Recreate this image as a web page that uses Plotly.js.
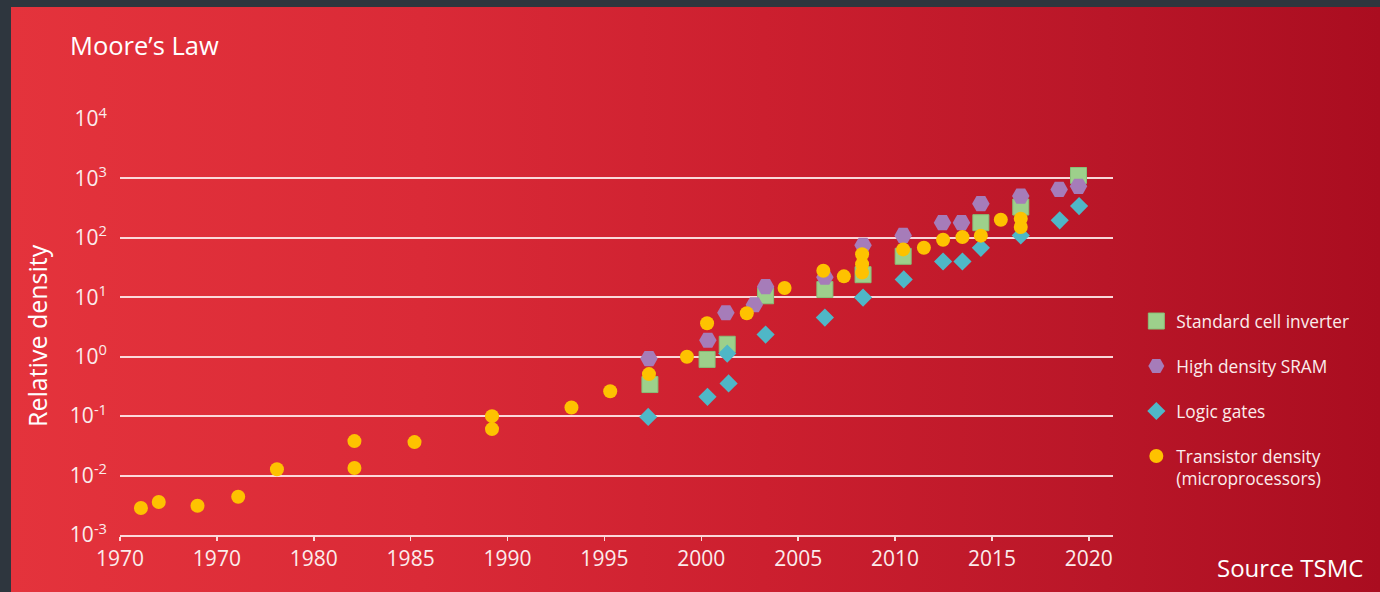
<!DOCTYPE html>
<html>
<head>
<meta charset="utf-8">
<script src="https://cdn.plot.ly/plotly-3.0.1.min.js"></script>
<style>
html,body{margin:0;padding:0;width:1380px;height:592px;overflow:hidden;background:#2e363e;}
#bg{position:absolute;left:11px;top:7px;width:1369px;height:585px;
  background:linear-gradient(to right,#e4333c 0%,#da2a37 30%,#cc1f2f 55%,#b91628 80%,#aa0d20 100%);}
#chart{position:absolute;left:0;top:0;width:1380px;height:592px;}
</style>
</head>
<body>
<div id="bg"></div>
<div id="chart"></div>
<script>
// ---- tick labels ----
const xTickVals = [1970, 1975, 1980, 1985, 1990, 1995, 2000, 2005, 2010, 2015, 2020];
const xTickText = ['1970', '1970', '1980', '1985', '1990', '1995', '2000', '2005', '2010', '2015', '2020'];
const yTickVals = [1e-3, 1e-2, 1e-1, 1e0, 1e1, 1e2, 1e3, 1e4];
const yTickText = ['10<sup>-3</sup>', '10<sup>-2</sup>', '10<sup>-1</sup>', '10<sup>0</sup>',
                   '10<sup>1</sup>', '10<sup>2</sup>', '10<sup>3</sup>', '10<sup>4</sup>'];

// ---- series ----
const seriesNames = ['Standard cell inverter', 'High density SRAM', 'Logic gates',
                     'Transistor density<br>(microprocessors)'];

const inverterYears = [1997.35, 2000.3, 2001.34, 2003.32, 2006.38, 2008.35, 2010.42, 2014.43, 2016.49, 2019.47];
const inverterDensity = [0.34, 0.90, 1.62, 10.6, 13.5, 24, 49, 180, 330, 1120];

const sramYears = [1997.3, 2000.34, 2001.27, 2002.74, 2003.32, 2006.38, 2008.35, 2010.42, 2012.45, 2013.43, 2014.43, 2016.49, 2018.47, 2019.47];
const sramDensity = [0.93, 1.89, 5.5, 7.5, 15.1, 21.7, 75, 110, 180, 180, 376, 505, 653, 735];

const logicYears = [1997.26, 2000.32, 2001.41, 2001.34, 2003.32, 2006.38, 2008.35, 2010.45, 2012.48, 2013.48, 2014.43, 2016.49, 2018.5, 2019.5];
const logicDensity = [0.097, 0.211, 0.355, 1.13, 2.36, 4.56, 9.9, 20, 40, 40, 68, 110, 197, 342];

const transistorYears = [1971.08, 1972.0, 1974.0, 1976.1, 1978.1, 1982.1, 1982.1, 1985.2, 1989.2, 1989.2,
  1993.3, 1995.3, 1997.3, 1999.26, 2000.3, 2002.35, 2004.3, 2006.3, 2007.36, 2008.3, 2008.3, 2008.3,
  2010.42, 2011.49, 2012.48, 2013.48, 2014.43, 2015.46, 2016.49, 2016.49];
const transistorDensity = [0.00284, 0.0036, 0.0031, 0.0044, 0.0128, 0.038, 0.0134, 0.0366, 0.1, 0.0605,
  0.14, 0.263, 0.51, 1.0, 3.65, 5.4, 14.3, 28, 22.5, 53, 36, 26,
  64, 68, 93, 103, 109, 202, 210, 152];

const FONT = '"Open Sans", "Noto Sans", sans-serif';
const LINE = 'rgba(255,236,236,0.9)';
const xRange = [1970, 2021.25];
const yRange = [-3, 4];

const traces = [
  {x: inverterYears, y: inverterDensity, name: seriesNames[0], legendgroup: 'a',
   type: 'scatter', mode: 'markers', cliponaxis: false,
   marker: {symbol: 'square', size: 16, color: '#9dd08b', line: {color: '#88bf77', width: 1}}},
  {x: sramYears, y: sramDensity, name: seriesNames[1], legendgroup: 'b',
   type: 'scatter', mode: 'markers', cliponaxis: false,
   marker: {symbol: 'hexagon2', size: 17.5, color: '#a67cb9', line: {width: 0}}},
  {x: logicYears, y: logicDensity, name: seriesNames[2], legendgroup: 'c',
   type: 'scatter', mode: 'markers', cliponaxis: false,
   marker: {symbol: 'diamond', size: 14, color: '#4fb7c7', line: {width: 0}}},
  {x: transistorYears, y: transistorDensity, name: seriesNames[3], legendgroup: 'd',
   type: 'scatter', mode: 'markers', cliponaxis: false,
   marker: {symbol: 'circle', size: 14, color: '#fec200', line: {width: 0}}}
];

const layout = {
  width: 1380, height: 592,
  margin: {l: 120, r: 267, t: 119, b: 57, pad: 0},
  paper_bgcolor: 'rgba(0,0,0,0)',
  plot_bgcolor: 'rgba(0,0,0,0)',
  font: {family: FONT, color: '#ffffff'},
  title: {text: 'Moore’s Law', x: 70 / 1380, xref: 'container', xanchor: 'left',
          y: 1 - 46 / 592, yref: 'container', yanchor: 'middle',
          font: {family: FONT, size: 25.5, color: '#ffffff'}},
  xaxis: {range: xRange, tickvals: xTickVals, ticktext: xTickText,
          showgrid: false, zeroline: false, showline: true, linecolor: LINE, linewidth: 2,
          ticks: 'outside', ticklen: 4, tickwidth: 1.5, tickcolor: LINE,
          tickfont: {family: FONT, size: 21, color: '#fbecec'}},
  xaxis2: {range: xRange, overlaying: 'x', anchor: 'y', side: 'bottom', tickvals: xTickVals,
           showticklabels: false, showgrid: false, zeroline: false, showline: false,
           ticks: 'inside', ticklen: 6, tickwidth: 1.5, tickcolor: LINE},
  yaxis: {type: 'log', range: yRange, tickvals: yTickVals, ticktext: yTickText,
          showgrid: true, gridcolor: LINE, gridwidth: 2, zeroline: false, showline: false,
          ticks: '', ticklabelstandoff: 12,
          tickfont: {family: FONT, size: 21, color: '#fbecec'}},
  legend: {x: 1.0235, xanchor: 'left', y: 0.557, yanchor: 'top',
           bgcolor: 'rgba(0,0,0,0)', borderwidth: 0,
           traceorder: 'grouped', tracegroupgap: 19.5, valign: 'top',
           font: {family: FONT, size: 17.3, color: '#fbecec'}},
  showlegend: true,
  annotations: [
    {text: 'Relative density', textangle: -90, xref: 'paper', yref: 'paper',
     x: (37 - 120) / 993, y: (535 - 336) / 416, xanchor: 'center', yanchor: 'middle',
     showarrow: false, font: {family: FONT, size: 25, color: '#ffffff'}},
    {text: 'Source TSMC', xref: 'paper', yref: 'paper',
     x: (1365 - 120) / 993, y: (535 - 567) / 416, xanchor: 'right', yanchor: 'middle',
     showarrow: false, font: {family: FONT, size: 24, color: '#ffffff'}}]
};

Plotly.newPlot('chart', traces, layout, {displayModeBar: false, staticPlot: true});
</script>
</body>
</html>
